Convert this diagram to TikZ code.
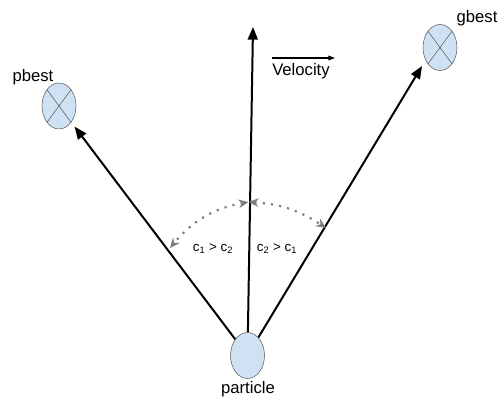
\documentclass[tikz,border=0pt]{standalone}
\usepackage{fontspec}
\setmainfont{Liberation Sans}
\usetikzlibrary{arrows.meta, shapes.geometric}
\definecolor{NodeBlue}{RGB}{207,226,243}
\definecolor{EdgeGray}{RGB}{89,89,89}
\definecolor{DotGray}{RGB}{125,125,125}
\begin{document}
\begin{tikzpicture}[x=0.75pt, y=0.75pt, font=\fontsize{12.5}{15}\selectfont,
	pt/.style={ellipse, draw=EdgeGray, fill=NodeBlue, minimum width=25.5pt, minimum height=34.5pt, inner sep=0pt},
	best/.style={pt, path picture={\draw[EdgeGray] (path picture bounding box.north west) -- (path picture bounding box.south east)
		(path picture bounding box.north east) -- (path picture bounding box.south west);}},
	mv/.style={-{Triangle[length=9.5pt, width=7.5pt]}, line width=1.5pt},
	pull/.style={{Stealth[length=7.5pt, width=6.5pt, inset=2.5pt]}-{Stealth[length=7.5pt, width=6.5pt, inset=2.5pt]}, DotGray, line width=1.6pt, dash pattern=on 1.6pt off 4.6pt}]
	\useasboundingbox (0,0) rectangle (500,399);
	% particle and the two bests
	\node[pt] (particle) at (247.5,43.5) {};
	\node (plbl) at (248,10) {particle};
	\node[best] (pbest) at (59,293) {};
	\node (pblbl) at (33,322) {pbest};
	\node[best] (gbest) at (440,351.5) {};
	\node (gblbl) at (477,381) {gbest};
	% arrow ends
	\coordinate (vtip) at (253,372);
	\coordinate (gtip) at (422,333);
	\draw[mv] (particle) -- (vtip);
	\draw[mv, shorten >=4pt] (particle) -- (pbest);
	\draw[mv] (particle) -- (gtip);
	% velocity legend
	\node[anchor=west, inner sep=0pt] (vel) at (272,328) {Velocity};
	\coordinate (v0) at (272,341); \coordinate (v1) at (335,341);
	\draw[-{Triangle[length=5pt, width=3.5pt]}, line width=0.8pt] (v0) -- (v1);
	% pulls
	\coordinate (apex) at (248.5,197);
	\coordinate (la) at (170,151); \coordinate (ra) at (326,171);
	\draw[pull] (apex) to[bend right=20] (la);
	\draw[pull] (apex) to[bend left=15] (ra);
	\node[font=\fontsize{10}{12}\selectfont] (c12) at (213,150) {c\textsubscript{1} > c\textsubscript{2}};
	\node[font=\fontsize{10}{12}\selectfont] (c21) at (277,150) {c\textsubscript{2} > c\textsubscript{1}};
\end{tikzpicture}
\end{document}
